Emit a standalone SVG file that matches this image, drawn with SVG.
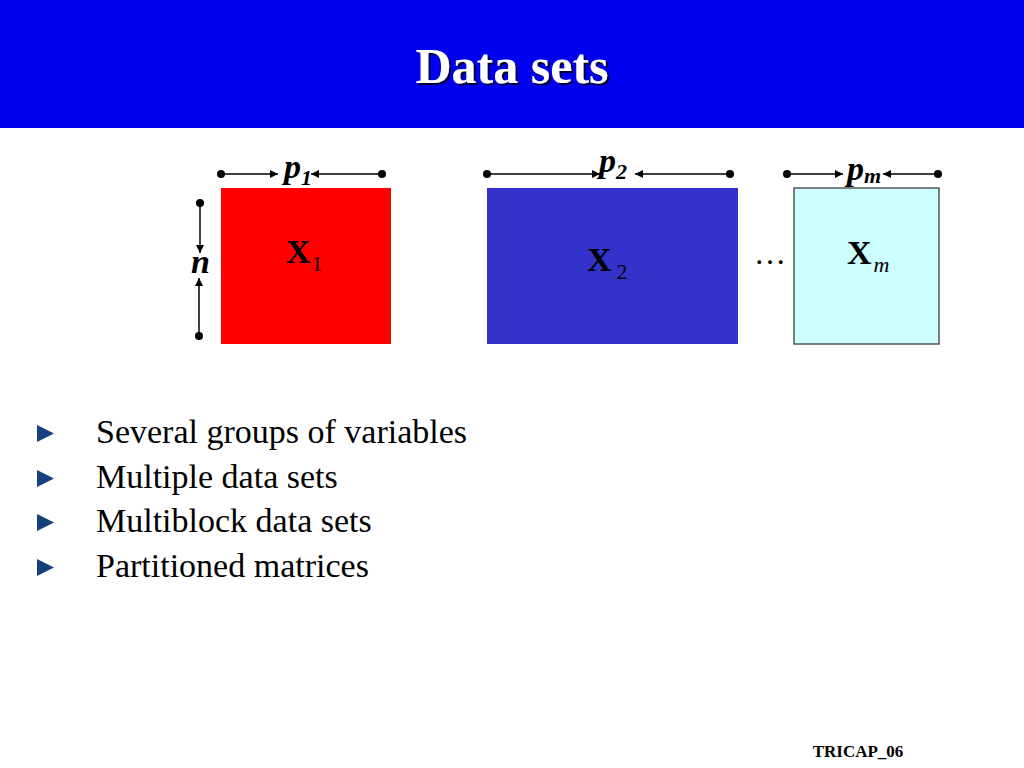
<svg xmlns="http://www.w3.org/2000/svg" width="1024" height="768" viewBox="0 0 1024 768">
<style>
.lbl{font-family:"Liberation Serif",serif;font-weight:bold;font-style:italic;font-size:34px;fill:#000}
.sub{font-family:"Liberation Serif",serif;font-weight:normal;font-size:22px;fill:#000}
.X{font-family:"Liberation Serif",serif;font-weight:bold;font-size:34px;fill:#000}
.bul{font-family:"Liberation Serif",serif;font-size:34px;fill:#000}
.ln{stroke:#000;stroke-width:1.5;fill:none}
.dot{fill:#000}
.tri{fill:#17407a}
</style>
<defs>
<marker id="ah" viewBox="0 0 10 10" refX="10" refY="5" markerWidth="8" markerHeight="8" markerUnits="userSpaceOnUse" orient="auto"><path d="M0,0 L10,5 L0,10 Z" fill="#000"/></marker>
<filter id="sh" x="-10%" y="-10%" width="130%" height="130%"><feDropShadow dx="2" dy="2" stdDeviation="0.6" flood-color="#000" flood-opacity="0.8"/></filter>
</defs>
<rect x="0" y="0" width="1024" height="768" fill="#fff"/>
<g id="header">
<rect x="0" y="0" width="1024" height="128" fill="#0000ee"/>
<text x="512" y="83" text-anchor="middle" font-family="Liberation Serif,serif" font-weight="bold" font-size="50" fill="#fff" filter="url(#sh)">Data sets</text>
</g>
<g id="X1">
<rect x="221" y="188" width="170" height="156" fill="#ff0000"/>
<text x="286" y="263" class="X">X<tspan class="sub" dx="1" dy="8">1</tspan></text>
</g>
<g id="X2">
<rect x="487" y="188" width="251" height="156" fill="#3333cc"/>
<text x="587" y="271" class="X">X<tspan class="sub" dx="5" dy="8">2</tspan></text>
</g>
<g id="Xm">
<rect x="794" y="188" width="145" height="156" fill="#ccffff" stroke="#555" stroke-width="1.5"/>
<text x="847" y="264" class="X">X<tspan class="sub" font-style="italic" dx="2" dy="8">m</tspan></text>
</g>
<g id="ellipsis">
<text x="770" y="264" text-anchor="middle" font-family="Liberation Serif,serif" font-size="32" fill="#000">…</text>
</g>
<g id="labels">
<text x="284" y="178" class="lbl">p<tspan font-size="22" dy="7">1</tspan></text>
<text x="599" y="172" class="lbl">p<tspan font-size="22" dy="7">2</tspan></text>
<text x="847" y="180" class="lbl">p<tspan font-size="22" dy="3">m</tspan></text>
<text x="191" y="273" class="lbl">n</text>
</g>
<g id="connectors">
<circle cx="221" cy="174" r="4" class="dot"/>
<line x1="221" y1="174" x2="278" y2="174" class="ln" marker-end="url(#ah)"/>
<circle cx="382" cy="174" r="4" class="dot"/>
<line x1="382" y1="174" x2="311" y2="174" class="ln" marker-end="url(#ah)"/>
<circle cx="487" cy="174" r="4" class="dot"/>
<line x1="487" y1="174" x2="600" y2="174" class="ln" marker-end="url(#ah)"/>
<circle cx="730" cy="174" r="4" class="dot"/>
<line x1="730" y1="174" x2="635" y2="174" class="ln" marker-end="url(#ah)"/>
<circle cx="787" cy="174" r="4" class="dot"/>
<line x1="787" y1="174" x2="843" y2="174" class="ln" marker-end="url(#ah)"/>
<circle cx="938" cy="174" r="4" class="dot"/>
<line x1="938" y1="174" x2="883" y2="174" class="ln" marker-end="url(#ah)"/>
<circle cx="200" cy="203" r="4" class="dot"/>
<line x1="200" y1="203" x2="200" y2="253" class="ln" marker-end="url(#ah)"/>
<circle cx="199" cy="336" r="4" class="dot"/>
<line x1="199" y1="336" x2="199" y2="278" class="ln" marker-end="url(#ah)"/>
</g>
<g id="bullets">
<path d="M37,425 L54,433.5 L37,442 Z" class="tri"/>
<path d="M37,470 L54,478.5 L37,487 Z" class="tri"/>
<path d="M37,514 L54,522.5 L37,531 Z" class="tri"/>
<path d="M37,559 L54,567.5 L37,576 Z" class="tri"/>
<text x="96" y="443" class="bul">Several groups of variables</text>
<text x="96" y="488" class="bul">Multiple data sets</text>
<text x="96" y="532" class="bul">Multiblock data sets</text>
<text x="96" y="577" class="bul">Partitioned matrices</text>
</g>
<g id="footer">
<text x="858" y="757" text-anchor="middle" font-family="Liberation Serif,serif" font-weight="bold" font-size="17" fill="#000">TRICAP_06</text>
</g>
</svg>
